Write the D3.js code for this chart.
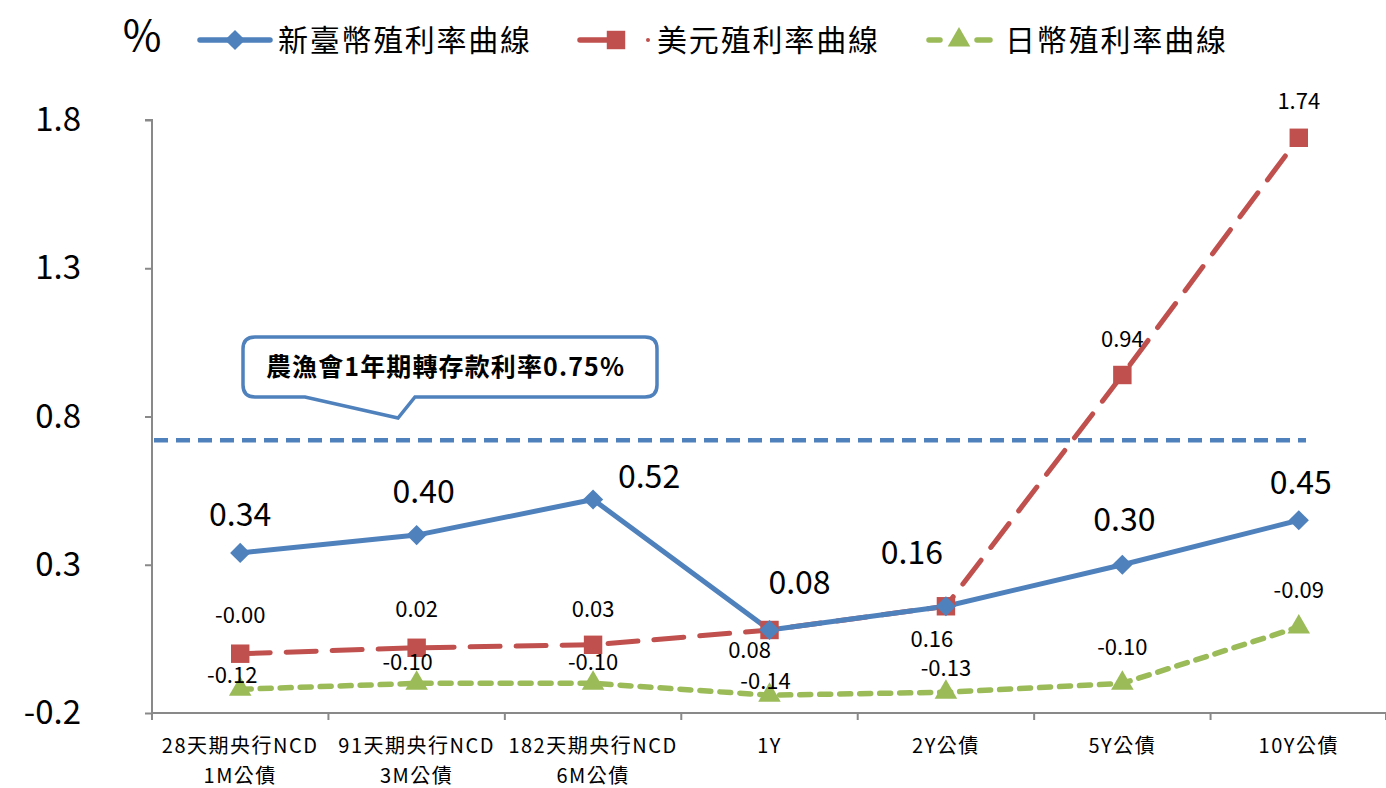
<!DOCTYPE html>
<html>
<head>
<meta charset="utf-8">
<script src="https://cdn.jsdelivr.net/npm/d3@7"></script>
<style>
  body { margin: 0; background: #fff; }
  text { font-family: "Noto Sans CJK TC", "Noto Sans", sans-serif; }
</style>
</head>
<body>
<div id="chart"></div>
<script>
// data
const categories = [
    ['28天期央行NCD', '1M公債'],
    ['91天期央行NCD', '3M公債'],
    ['182天期央行NCD', '6M公債'],
    ['1Y'],
    ['2Y公債'],
    ['5Y公債'],
    ['10Y公債'],
];
const twdValues = [0.34, 0.40, 0.52, 0.08, 0.16, 0.30, 0.45];
const usdValues = [-0.00, 0.02, 0.03, 0.08, 0.16, 0.94, 1.74];
const jpyValues = [-0.12, -0.10, -0.10, -0.14, -0.13, -0.10, 0.09];
const jpyLabels = ['-0.12', '-0.10', '-0.10', '-0.14', '-0.13', '-0.10', '-0.09'];
const usdLabels = ['-0.00', '0.02', '0.03', '0.08', '0.16', '0.94', '1.74'];
const seriesNames = ['新臺幣殖利率曲線', '美元殖利率曲線', '日幣殖利率曲線'];
const yTicks = [-0.2, 0.3, 0.8, 1.3, 1.8];
const refRate = 0.72;
const refText = '農漁會1年期轉存款利率0.75%';

const width = 1386;
const height = 788;
const margin = { top: 120, bottom: 75, left: 152, right: 0 };

const blue = '#4F81BD', red = '#C0504D', green = '#9BBB59', axisGrey = '#898989';

const svg = d3.select('#chart')
    .append('svg')
    .attr('width', width)
    .attr('height', height)
    .attr('viewBox', [0, 0, width, height]);

const x = d3.scaleBand()
    .domain(d3.range(categories.length))
    .range([margin.left, 1387]);
const cx = i => x(i) + x.bandwidth() / 2;

const y = d3.scaleLinear()
    .domain([-0.2, 1.8])
    .range([713, margin.top]);

const fmt1 = d => d3.format('.1f')(d).replace('−', '-');

// y axis
svg.append('g')
    .attr('transform', `translate(${margin.left},0)`)
    .call(d3.axisLeft(y).tickValues(yTicks).tickFormat(fmt1).tickSize(7).tickPadding(64))
    .call(g => g.selectAll('path, line').attr('stroke', axisGrey).attr('stroke-width', 2))
    .call(g => g.select('.domain').attr('d', `M-7,${y(1.8)}H0V${y(-0.2)}`))
    .call(g => g.selectAll('text').attr('font-size', 33).attr('fill', '#000')
        .attr('font-family', '"Noto Sans", sans-serif'));

// x axis: ticks on band edges, labels in band centres
const xAxis = svg.append('g').attr('transform', `translate(0,${y(-0.2)})`);
xAxis.append('line')
    .attr('x1', margin.left).attr('x2', 1387)
    .attr('stroke', axisGrey).attr('stroke-width', 2);
xAxis.selectAll('line.tick')
    .data(d3.range(categories.length + 1))
    .join('line')
    .attr('class', 'tick')
    .attr('x1', i => i < categories.length ? x(i) : 1386)
    .attr('x2', i => i < categories.length ? x(i) : 1386)
    .attr('y1', 0).attr('y2', 7)
    .attr('stroke', axisGrey).attr('stroke-width', 2);
xAxis.selectAll('text')
    .data(categories)
    .join('text')
    .attr('x', (d, i) => cx(i))
    .attr('y', 40)
    .attr('text-anchor', 'middle')
    .attr('font-size', 20)
    .attr('letter-spacing', 1.5)
    .selectAll('tspan')
    .data(d => d)
    .join('tspan')
    .attr('x', function () { return d3.select(this.parentNode).attr('x'); })
    .attr('dy', (d, j) => j === 0 ? 0 : 30)
    .text(d => d);

// reference rate line
svg.append('line')
    .attr('x1', margin.left + 2).attr('x2', 1306)
    .attr('y1', y(refRate)).attr('y2', y(refRate))
    .attr('stroke', blue).attr('stroke-width', 4.5)
    .attr('stroke-dasharray', '14 8');

// callout
const callout = svg.append('g');
callout.append('path')
    .attr('d', 'M255,337 H645 Q657,337 657,349 V385 Q657,397 645,397 H415 L398,418 L305,397 H255 Q243,397 243,385 V349 Q243,337 255,337 Z')
    .attr('fill', '#fff').attr('stroke', blue).attr('stroke-width', 3.5);
callout.append('text')
    .attr('x', 445).attr('y', 376)
    .attr('text-anchor', 'middle')
    .attr('font-size', 25).attr('font-weight', 'bold')
    .attr('textLength', 358)
    .text(refText);

const line = d3.line().x((d, i) => cx(i)).y(d => y(d));

// series paths
svg.append('path').datum(jpyValues)
    .attr('d', line).attr('fill', 'none')
    .attr('stroke', green).attr('stroke-width', 5.5)
    .attr('stroke-dasharray', '11 9').attr('stroke-linecap', 'round');
svg.append('path').datum(usdValues)
    .attr('d', line).attr('fill', 'none')
    .attr('stroke', red).attr('stroke-width', 5)
    .attr('stroke-dasharray', '30 16').attr('stroke-linecap', 'round');
svg.append('path').datum(twdValues)
    .attr('d', line).attr('fill', 'none')
    .attr('stroke', blue).attr('stroke-width', 5)
    .attr('stroke-linejoin', 'round');

// markers
const diamond = d3.symbol(d3.symbolDiamond2, 260);
const square = d3.symbol(d3.symbolSquare, 340);
const triangle = d3.symbol(d3.symbolTriangle, 220);

svg.append('g').selectAll('path')
    .data(jpyValues).join('path')
    .attr('transform', (d, i) => `translate(${cx(i)},${y(d)})`)
    .attr('d', triangle).attr('fill', green);
svg.append('g').selectAll('path')
    .data(usdValues).join('path')
    .attr('transform', (d, i) => `translate(${cx(i)},${y(d)})`)
    .attr('d', square).attr('fill', red);
svg.append('g').selectAll('path')
    .data(twdValues).join('path')
    .attr('transform', (d, i) => `translate(${cx(i)},${y(d)})`)
    .attr('d', diamond).attr('fill', blue);

// data labels, nudged like the original
const twdNudge = [[0, -38], [7, -43], [56, -23], [30, -47], [-34, -53], [2, -45], [2, -37]];
const usdNudge = [[0, -38], [0, -38], [0, -36], [-20, 20], [-14, 33], [0, -36], [0, -36]];
const jpyNudge = [[-8, -14], [-9, -21], [0, -21], [-4, -14], [0, -24], [0, -36], [0, -37]];

svg.append('g').selectAll('text')
    .data(twdValues).join('text')
    .attr('x', (d, i) => cx(i) + twdNudge[i][0])
    .attr('y', (d, i) => y(d) + twdNudge[i][1])
    .attr('dy', '0.35em')
    .attr('text-anchor', 'middle')
    .attr('font-size', 32)
    .attr('font-family', '"Noto Sans", sans-serif')
    .text(d => d3.format('.2f')(d));
svg.append('g').selectAll('text')
    .data(usdValues).join('text')
    .attr('x', (d, i) => cx(i) + usdNudge[i][0])
    .attr('y', (d, i) => y(d) + usdNudge[i][1])
    .attr('dy', '0.35em')
    .attr('text-anchor', 'middle')
    .attr('font-size', 22)
    .attr('font-family', '"Noto Sans", sans-serif')
    .text((d, i) => usdLabels[i]);
svg.append('g').selectAll('text')
    .data(jpyValues).join('text')
    .attr('x', (d, i) => cx(i) + jpyNudge[i][0])
    .attr('y', (d, i) => y(d) + jpyNudge[i][1])
    .attr('dy', '0.35em')
    .attr('text-anchor', 'middle')
    .attr('font-size', 22)
    .attr('font-family', '"Noto Sans", sans-serif')
    .text((d, i) => jpyLabels[i]);

// unit + legend
svg.append('text')
    .attr('x', 142).attr('y', 51)
    .attr('text-anchor', 'middle')
    .attr('font-size', 42)
    .attr('font-family', '"Noto Sans", sans-serif')
    .text('%');

const legend = svg.append('g');
const legendX = [200, 578, 927];
const ly = 40;
// 1: solid blue with diamond
legend.append('line').attr('x1', legendX[0]).attr('x2', legendX[0] + 70)
    .attr('y1', ly).attr('y2', ly).attr('stroke', blue).attr('stroke-width', 5.5).attr('stroke-linecap', 'round');
legend.append('path').attr('transform', `translate(${legendX[0] + 35},${ly})`).attr('d', diamond).attr('fill', blue);
// 2: red dash with square
legend.append('line').attr('x1', legendX[1] + 2).attr('x2', legendX[1] + 32)
    .attr('y1', ly).attr('y2', ly).attr('stroke', red).attr('stroke-width', 5.5).attr('stroke-linecap', 'round');
legend.append('path').attr('transform', `translate(${legendX[1] + 38},${ly})`).attr('d', square).attr('fill', red);
legend.append('circle').attr('cx', legendX[1] + 70).attr('cy', ly).attr('r', 2).attr('fill', red);
// 3: green dashes with triangle
legend.append('line').attr('x1', legendX[2] + 2).attr('x2', legendX[2] + 13)
    .attr('y1', ly).attr('y2', ly).attr('stroke', green).attr('stroke-width', 5.5).attr('stroke-linecap', 'round');
legend.append('line').attr('x1', legendX[2] + 50).attr('x2', legendX[2] + 63)
    .attr('y1', ly).attr('y2', ly).attr('stroke', green).attr('stroke-width', 5.5).attr('stroke-linecap', 'round');
legend.append('path').attr('transform', `translate(${legendX[2] + 32},${ly})`).attr('d', triangle).attr('fill', green);

const legendTextX = [278, 657, 1005];
legend.selectAll('text')
    .data(seriesNames).join('text')
    .attr('x', (d, i) => legendTextX[i])
    .attr('y', ly)
    .attr('dy', '0.36em')
    .attr('font-size', 30)
    .attr('textLength', (d, i) => i === 0 ? 252 : 221)
    .text(d => d);
</script>
</body>
</html>
